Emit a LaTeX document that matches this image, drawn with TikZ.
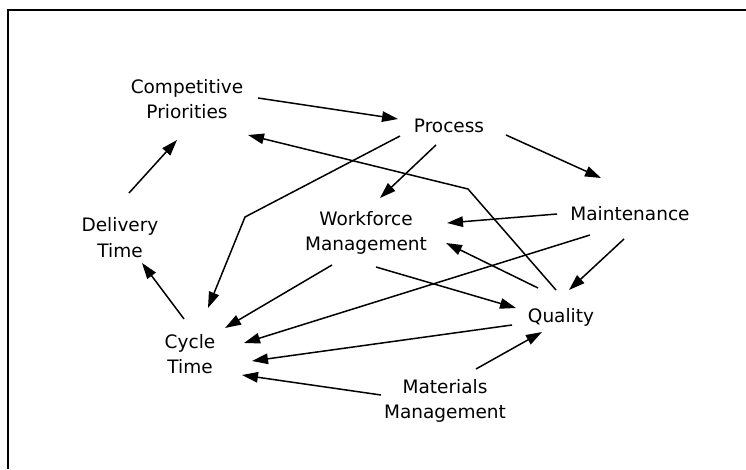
\documentclass[tikz,border=0pt]{standalone}
\usepackage{fontspec}
\setmainfont{DejaVu Sans}
\usetikzlibrary{arrows.meta}
\begin{document}
\begin{tikzpicture}[x=1pt,y=-1pt,
  lbl/.style={anchor=base,align=center,inner sep=0pt,font=\fontsize{18.5}{25}\selectfont},
  conn/.style={line width=1.5pt,-{Triangle[length=16pt,width=10.5pt]}},
  frame/.style={line width=1.5pt}]
\useasboundingbox (0,0) rectangle (746,470);
\draw[frame] (8,469) -- (8,10) -- (746,10);
% base anchors of multi-line nodes sit on the last line
\node[lbl] (cp) at (187,119) {Competitive\\Priorities};
\node[lbl] (proc) at (449,133) {Process};
\node[lbl] (maint) at (630,221) {Maintenance};
\node[lbl] (wf) at (366,251) {Workforce\\Management};
\node[lbl] (dt) at (120,257) {Delivery\\Time};
\node[lbl] (ct) at (190,373) {Cycle\\Time};
\node[lbl] (qual) at (561,322) {Quality};
\node[lbl] (mat) at (445,418) {Materials\\Management};
\coordinate (b1) at (468,189);
\coordinate (b2) at (245,217);
% Competitive Priorities -> Process
\draw[conn] ([shift={(71,-21)}]cp.base) -- ([shift={(-51,-14)}]proc.base);
% Quality -> Competitive Priorities (bent)
\draw[conn] ([shift={(-5,-32)}]qual.base) -- (b1) -- ([shift={(61,16)}]cp.base);
% Process -> Cycle Time (bent)
\draw[conn] ([shift={(-49,3)}]proc.base) -- (b2) -- ([shift={(18,-65)}]ct.base);
% Process -> Workforce
\draw[conn] ([shift={(-13,12)}]proc.base) -- ([shift={(14,-53)}]wf.base);
% Process -> Maintenance
\draw[conn] ([shift={(57,2)}]proc.base) -- ([shift={(-29,-43)}]maint.base);
% Delivery Time -> Competitive Priorities
\draw[conn] ([shift={(9,-64)}]dt.base) -- ([shift={(-10,21)}]cp.base);
% Cycle Time -> Delivery Time
\draw[conn] ([shift={(-6,-54)}]ct.base) -- ([shift={(22,6)}]dt.base);
% Workforce -> Cycle Time
\draw[conn] ([shift={(-34,14)}]wf.base) -- ([shift={(35,-45)}]ct.base);
% Maintenance -> Cycle Time
\draw[conn] ([shift={(-40,14)}]maint.base) -- ([shift={(54,-30)}]ct.base);
% Quality -> Cycle Time
\draw[conn] ([shift={(-49,3)}]qual.base) -- ([shift={(62,-12)}]ct.base);
% Materials -> Cycle Time
\draw[conn] ([shift={(-64,-23)}]mat.base) -- ([shift={(52,2)}]ct.base);
% Materials -> Quality
\draw[conn] ([shift={(31,-49)}]mat.base) -- ([shift={(-19,10)}]qual.base);
% Maintenance -> Workforce
\draw[conn] ([shift={(-73,-7)}]maint.base) -- ([shift={(81,-28)}]wf.base);
% Quality -> Workforce
\draw[conn] ([shift={(-23,-34)}]qual.base) -- ([shift={(80,-8)}]wf.base);
% Maintenance -> Quality
\draw[conn] ([shift={(-6,18)}]maint.base) -- ([shift={(8,-32)}]qual.base);
% Workforce -> Quality
\draw[conn] ([shift={(10,16)}]wf.base) -- ([shift={(-45,-14)}]qual.base);
\end{tikzpicture}
\end{document}
